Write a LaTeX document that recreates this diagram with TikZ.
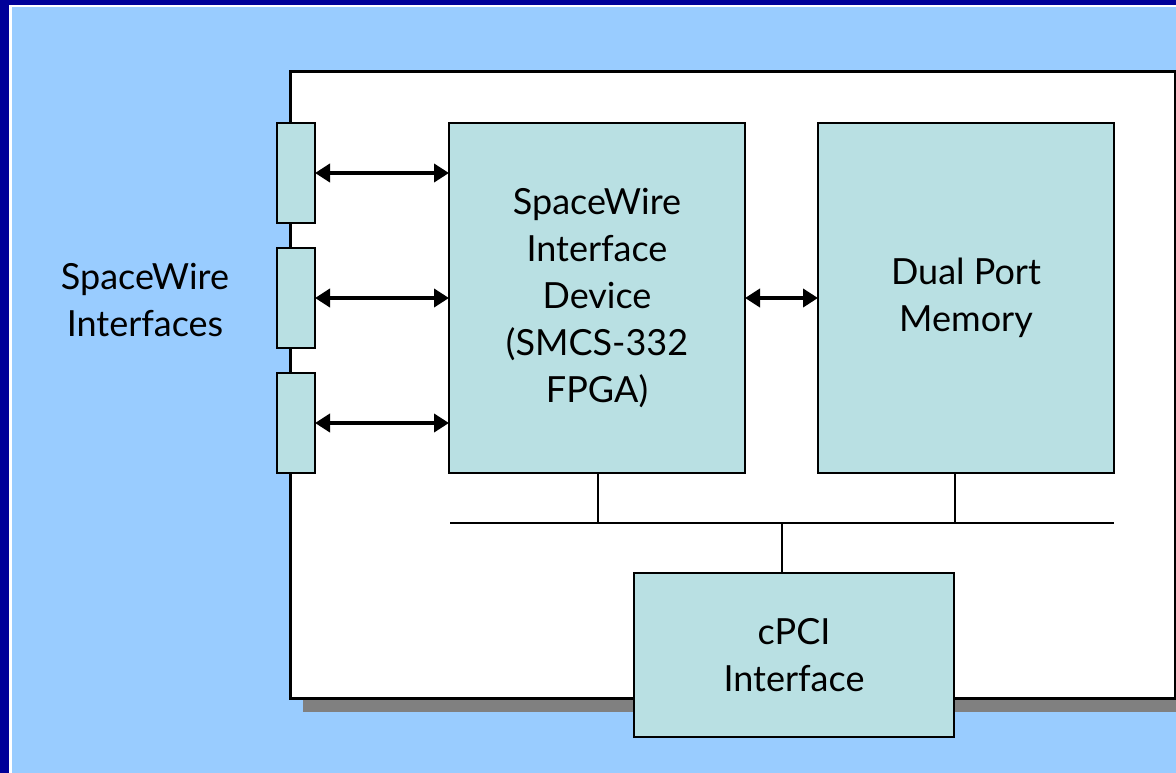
\documentclass[tikz,border=0pt]{standalone}
\usepackage{fontspec}
\setmainfont{Lato}
\usetikzlibrary{arrows.meta}
\definecolor{navy}{HTML}{000099}
\definecolor{skyblue}{HTML}{99CCFF}
\definecolor{boxteal}{HTML}{B9E0E3}
\definecolor{shadowgray}{HTML}{808080}
\begin{document}
\begin{tikzpicture}[x=1pt,y=-1pt,
  blk/.style={draw=black, line width=2.5pt, fill=boxteal, inner sep=0pt, outer sep=0pt, align=center,
    font=\fontsize{36}{47}\selectfont},
  port/.style={blk, minimum width=38pt, minimum height=100pt},
  big/.style={blk, minimum width=296pt, minimum height=350pt},
  link/.style={line width=4.5pt, {Triangle[length=15pt,width=18pt]}-{Triangle[length=15pt,width=18pt]}},
  bus/.style={line width=2pt, draw=black},
  lbl/.style={align=center, font=\fontsize{36}{47}\selectfont, inner sep=0pt}]
\useasboundingbox (0,0) rectangle (1176,773);
\clip (0,0) rectangle (1176,773);
% frame and background
\fill[navy] (0,0) rectangle (1176,773);
\fill[white] (9,5) rectangle (1176,773);
\fill[skyblue] (12,7) rectangle (1176,773);
% board with shadow
\fill[shadowgray] (303,85) rectangle (1200,712);
\draw[line width=3pt, fill=white] (290,72) rectangle (1175,698);
% blocks
\node[port] (p1) at (296,173) {};
\node[port] (p2) at (296,298) {};
\node[port] (p3) at (296,423) {};
\node[big] (fpga) at (597,298) {SpaceWire\\Interface\\Device\\(SMCS-332\\FPGA)};
\node[big] (mem) at (966,298) {Dual Port\\Memory};
\node[blk, minimum width=320pt, minimum height=164pt] (cpci) at (794,655) {cPCI\\Interface};
\node[lbl] (swlabel) at (145,300) {SpaceWire\\Interfaces};
% links
\draw[link] (p1.east) -- (p1.east -| fpga.west);
\draw[link] (p2.east) -- (p2.east -| fpga.west);
\draw[link] (p3.east) -- (p3.east -| fpga.west);
\draw[link] (fpga.east) -- (mem.west);
% bus
\coordinate (busL) at (450,523);
\coordinate (busR) at (1114,523);
\draw[bus] (busL) -- (busR);
\coordinate (fpgaB) at (598,473);
\coordinate (memB) at (955,473);
\coordinate (cpciT) at (782,573);
\draw[bus] (fpgaB) -- (fpgaB |- busL);
\draw[bus] (memB) -- (memB |- busL);
\draw[bus] (cpciT) -- (cpciT |- busL);
\end{tikzpicture}
\end{document}
